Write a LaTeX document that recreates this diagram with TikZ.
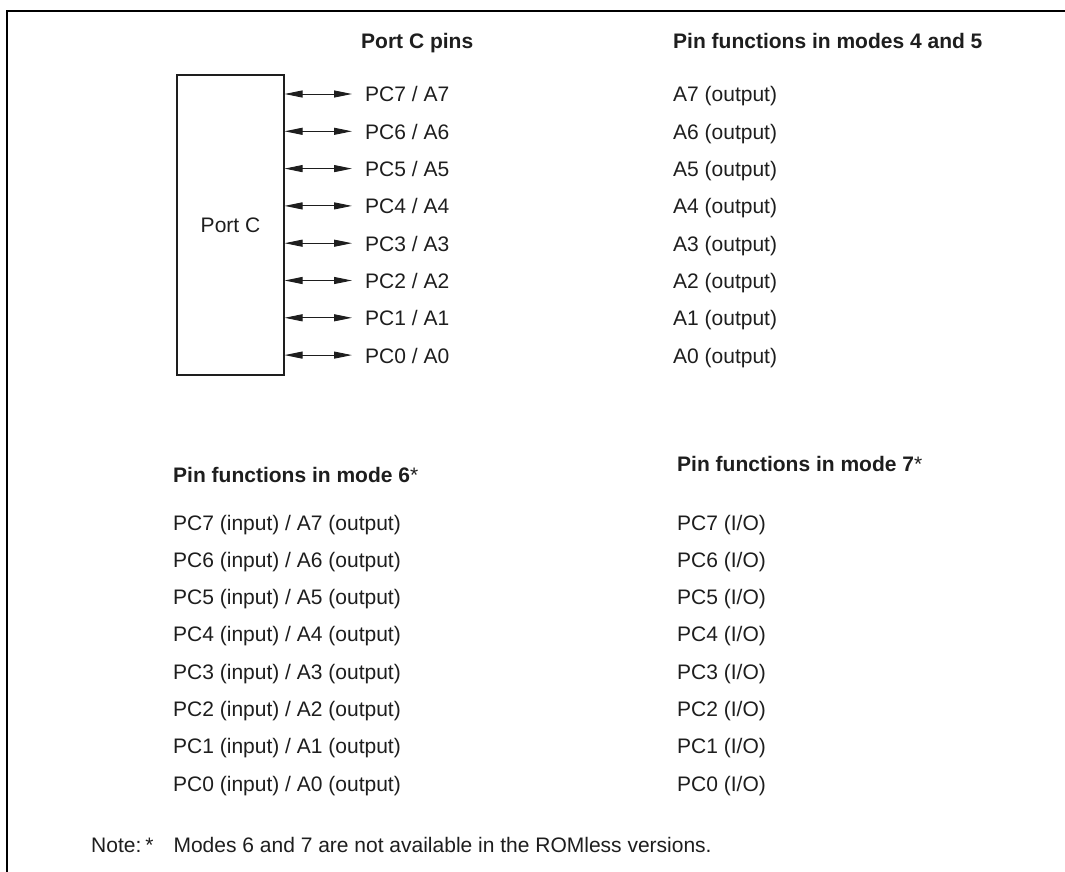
\documentclass[tikz,border=0pt]{standalone}
\usepackage{fontspec}
\setmainfont{Liberation Sans}
\usetikzlibrary{arrows.meta}
\definecolor{ink}{HTML}{1E1E1E}
\begin{document}
\begin{tikzpicture}[x=1pt,y=-1pt,
  txt/.style={anchor=base west, inner sep=0pt, text=ink, font=\fontsize{21}{25}\selectfont},
  hdr/.style={anchor=base west, inner sep=0pt, text=ink, font=\fontsize{21}{25}\selectfont\bfseries},
  frameline/.style={line width=2pt, draw=black},
  pbox/.style={draw=ink, line width=1.1pt, minimum width=107pt, minimum height=300pt, inner sep=0pt, text=ink, font=\fontsize{21}{25}\selectfont},
  bidir/.style={draw=ink, line width=0.9pt, {Triangle[length=18pt,width=7pt]}-{Triangle[length=18pt,width=7pt]}}]
\useasboundingbox (0,0) rectangle (1065,872);
\fill[white] (0,0) rectangle (1065,872);
% frame
\draw[frameline] (7,872) -- (7,11) -- (1065,11);
% port C block
\node[pbox] (portc) at (230.5,225) {Port C};
% headers
\node[hdr] (hpins) at (361,49) {Port C pins};
\node[hdr] (h45) at (673,49) {Pin functions in modes 4 and 5};
\node[hdr] (h6) at (173,482) {Pin functions in mode 6{\mdseries *}};
\node[hdr] (h7) at (677,471) {Pin functions in mode 7{\mdseries *}};
% rows
\foreach \i in {0,...,7} {
  \pgfmathsetmacro\yy{94+37.3*(7-\i)}
  \coordinate (e\i) at (352,\yy);
  \draw[bidir] (portc.east |- e\i) -- (e\i);
  \node[txt] (pin\i) at (365,{\yy+8}) {PC\i{} / A\i};
  \node[txt] (m45\i) at (673,{\yy+8}) {A\i{} (output)};
  \pgfmathsetmacro\yb{530+37.3*(7-\i)}
  \node[txt] (m6\i) at (173,\yb) {PC\i{} (input) / A\i{} (output)};
  \node[txt] (m7\i) at (677,\yb) {PC\i{} (I/O)};
}
% note
\node[txt] (note) at (91,852) {Note:\hspace{4pt}*\hspace{20pt}Modes 6 and 7 are not available in the ROMless versions.};
\end{tikzpicture}
\end{document}
